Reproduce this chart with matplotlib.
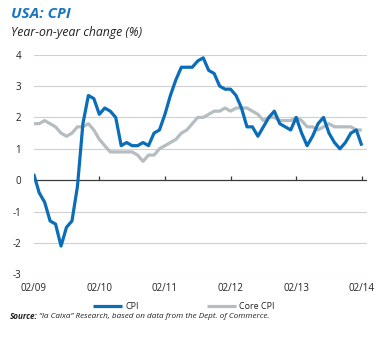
import matplotlib
matplotlib.use("Agg")
import matplotlib.pyplot as plt
import numpy as np

# Monthly data, Feb 2009 .. Feb 2014 (year-on-year change, %)
cpi = [0.2, -0.4, -0.7, -1.3, -1.4, -2.1, -1.5, -1.3, -0.2, 1.8, 2.7,
       2.6, 2.1, 2.3, 2.2, 2.0, 1.1, 1.2, 1.1, 1.1, 1.2, 1.1, 1.5,
       1.6, 2.1, 2.7, 3.2, 3.6, 3.6, 3.6, 3.8, 3.9, 3.5, 3.4, 3.0,
       2.9, 2.9, 2.7, 2.3, 1.7, 1.7, 1.4, 1.7, 2.0, 2.2, 1.8, 1.7,
       1.6, 2.0, 1.5, 1.1, 1.4, 1.8, 2.0, 1.5, 1.2, 1.0, 1.2, 1.5,
       1.6, 1.1]
core_cpi = [1.8, 1.8, 1.9, 1.8, 1.7, 1.5, 1.4, 1.5, 1.7, 1.7, 1.8,
            1.6, 1.3, 1.1, 0.9, 0.9, 0.9, 0.9, 0.9, 0.8, 0.6, 0.8, 0.8,
            1.0, 1.1, 1.2, 1.3, 1.5, 1.6, 1.8, 2.0, 2.0, 2.1, 2.2, 2.2,
            2.3, 2.2, 2.3, 2.3, 2.3, 2.2, 2.1, 1.9, 2.0, 2.0, 1.9, 1.9,
            1.9, 2.0, 1.9, 1.7, 1.7, 1.6, 1.7, 1.8, 1.7, 1.7, 1.7, 1.7,
            1.6, 1.6]
tick_labels = ["02/09", "02/10", "02/11", "02/12", "02/13", "02/14"]
yticks = [-3, -2, -1, 0, 1, 2, 3, 4]

BLUE = "#0b6db7"
GRAY = "#b5bdc0"
FONT = ["Open Sans", "DejaVu Sans"]
plt.rcParams["font.family"] = FONT

fig = plt.figure(figsize=(3.82, 3.38), dpi=100)
ax = fig.add_axes([0.0882, 0.1885, 0.8718, 0.6497])

months = np.arange(len(cpi))
ax.plot(months, core_cpi, color=GRAY, lw=2.3, solid_capstyle="butt", label="Core CPI", zorder=3)
ax.plot(months, cpi, color=BLUE, lw=2.3, solid_capstyle="butt", label="CPI", zorder=4)

ax.set_xlim(0, 60.9)
ax.set_ylim(-3, 4)
for y in yticks:
    if y != 0:
        ax.axhline(y, color="#d0d0d0", lw=0.8, zorder=1)
ax.axhline(0, color="#3a3a3a", lw=0.9, zorder=2)
tick_pos = np.arange(0, 61, 12)
ax.vlines(tick_pos[1:], 0, 0.13, color="#3a3a3a", lw=0.9, zorder=2)

for s in ax.spines.values():
    s.set_visible(False)
ax.set_yticks(yticks)
ax.set_yticklabels([str(v) for v in yticks], fontsize=7, color="#222222")
ax.set_xticks(tick_pos)
ax.set_xticklabels(tick_labels, fontsize=7, color="#222222")
ax.tick_params(axis="both", length=0)
ax.tick_params(axis="y", pad=9)
ax.tick_params(axis="x", pad=6)

handles, labels = ax.get_legend_handles_labels()
leg = fig.legend([handles[1], handles[0]], [labels[1], labels[0]],
                 loc="center", bbox_to_anchor=(0.482, 0.094), ncol=2,
                 frameon=False, fontsize=6.5, handlelength=3.2,
                 columnspacing=7.5, handletextpad=0.4)
for t in leg.get_texts():
    t.set_color("#222222")

fig.text(0.03, 0.958, "USA: CPI", fontsize=11, fontweight="bold", style="italic",
         color="#1a75bc", va="center", ha="left")
fig.text(0.03, 0.905, "Year-on-year change (%)", fontsize=8.8, style="italic",
         color="#222222", va="center", ha="left")
src_bold = fig.text(0.026, 0.065, "Source:", fontsize=5.9, style="italic", fontweight="bold",
                    color="#222222", ha="left", va="center")
fig.canvas.draw()
bb = src_bold.get_window_extent()
x1 = bb.x1 / fig.bbox.width
fig.text(x1 + 0.003, 0.065, "\u201cla Caixa\u201d Research, based on data from the Dept. of Commerce.",
         fontsize=5.9, style="italic", color="#222222", ha="left", va="center")

fig.savefig("out.png", dpi=100)
